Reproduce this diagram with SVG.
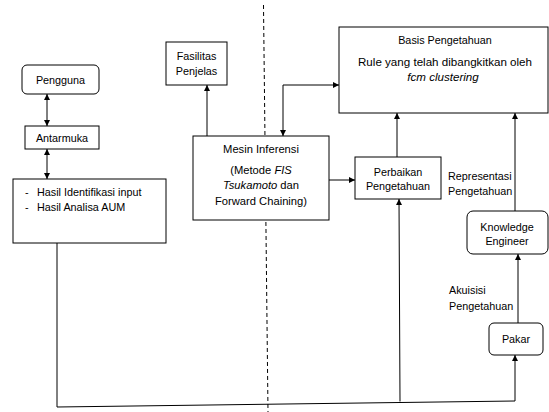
<svg xmlns="http://www.w3.org/2000/svg" width="549" height="412" viewBox="0 0 549 412">
<style>
.box{fill:#fff;stroke:#000;stroke-width:1}
.ln{fill:none;stroke:#000;stroke-width:1}
text{font-family:"Liberation Sans",Arial,sans-serif;font-size:10.8px;fill:#000}
.c{text-anchor:middle}
.i{font-style:italic}
.big{font-size:11.6px}
.m{font-size:11.2px}
</style>
<defs>
<marker id="ah" viewBox="0 0 8 8" refX="8" refY="4" markerWidth="6" markerHeight="6" orient="auto-start-reverse" markerUnits="userSpaceOnUse">
<path d="M0,0 L8,4 L0,8 z" fill="#000"/>
</marker>
</defs>
<rect width="549" height="412" fill="#fff"/>
<line x1="263.5" y1="5" x2="268" y2="412" stroke="#000" stroke-width="1" stroke-dasharray="4,3"/>
<g id="connectors">
<line class="ln" x1="47" y1="94" x2="47" y2="126" marker-start="url(#ah)" marker-end="url(#ah)"/>
<line class="ln" x1="47" y1="149" x2="47" y2="179" marker-start="url(#ah)" marker-end="url(#ah)"/>
<line class="ln" x1="207" y1="136" x2="207" y2="85" marker-end="url(#ah)"/>
<polyline class="ln" points="283,136 283,85 339,85" marker-start="url(#ah)" marker-end="url(#ah)"/>
<line class="ln" x1="329" y1="180" x2="355" y2="180" marker-end="url(#ah)"/>
<line class="ln" x1="397" y1="157" x2="397" y2="113" marker-end="url(#ah)"/>
<line class="ln" x1="515" y1="211" x2="515" y2="113" marker-end="url(#ah)"/>
<line class="ln" x1="518" y1="323" x2="518" y2="254" marker-end="url(#ah)"/>
<polyline class="ln" points="57,243 57,407 515,401 515,355" marker-end="url(#ah)"/>
<line class="ln" x1="400" y1="401.5" x2="399" y2="199" marker-end="url(#ah)"/>
</g>
<g id="pengguna">
<rect class="box" x="22" y="65" width="77" height="29" rx="5"/>
<text class="c" x="60.5" y="83.5">Pengguna</text>
</g>
<g id="antarmuka">
<rect class="box" x="25" y="126" width="74" height="23"/>
<text class="c" x="62" y="141.5">Antarmuka</text>
</g>
<g id="hasil">
<rect class="box" x="13" y="179" width="153" height="64"/>
<text x="25" y="195.5">-</text>
<text x="37" y="195.5">Hasil Identifikasi input</text>
<text x="25" y="210.5">-</text>
<text x="37" y="210.5">Hasil Analisa AUM</text>
</g>
<g id="fasilitas">
<rect class="box" x="166" y="42" width="61" height="43"/>
<text class="c" x="196.5" y="59.5">Fasilitas</text>
<text class="c" x="196.5" y="74.5">Penjelas</text>
</g>
<g id="mesin">
<rect class="box" x="193" y="136" width="136" height="84"/>
<text class="c m" x="261" y="152.5">Mesin Inferensi</text>
<text class="c m" x="261" y="173.5">(Metode <tspan class="i">FIS</tspan></text>
<text class="c m" x="261" y="189"><tspan class="i">Tsukamoto</tspan> dan</text>
<text class="c m" x="261" y="205">Forward Chaining)</text>
</g>
<g id="basis">
<rect class="box" x="339" y="27" width="209" height="86"/>
<text class="c" x="445" y="44">Basis Pengetahuan</text>
<text class="c big" x="445" y="66">Rule yang telah dibangkitkan oleh</text>
<text class="c i big" x="443" y="81">fcm clustering</text>
</g>
<g id="perbaikan">
<rect class="box" x="355" y="157" width="86" height="42"/>
<text class="c" x="398" y="175.5">Perbaikan</text>
<text class="c" x="398" y="189.5">Pengetahuan</text>
</g>
<g id="representasi">
<text x="448" y="179.5">Representasi</text>
<text x="448" y="194.5">Pengetahuan</text>
</g>
<g id="knowledge-engineer">
<rect class="box" x="467" y="211" width="81" height="43" rx="6"/>
<text class="c" x="507" y="230.5">Knowledge</text>
<text class="c" x="507" y="244.5">Engineer</text>
</g>
<g id="akuisisi">
<text x="449" y="293.5">Akuisisi</text>
<text x="449" y="309.5">Pengetahuan</text>
</g>
<g id="pakar">
<rect class="box" x="489" y="323" width="54" height="32" rx="5"/>
<text class="c" x="516" y="342.5">Pakar</text>
</g>
</svg>
